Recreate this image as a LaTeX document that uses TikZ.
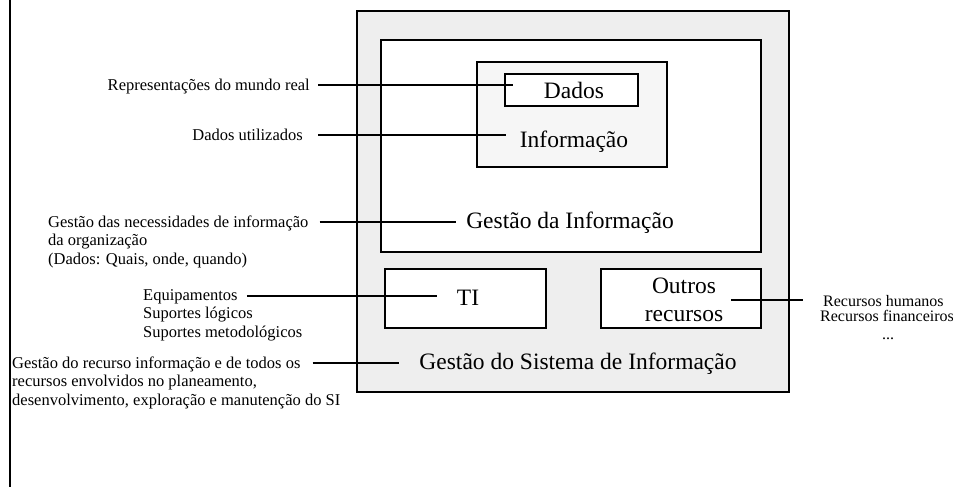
\documentclass[tikz,border=0pt]{standalone}
\usepackage{fontspec}
\setmainfont{Liberation Serif}
\usetikzlibrary{calc}
\definecolor{outerfill}{HTML}{EEEEEE}
\definecolor{infofill}{HTML}{F6F6F6}
\tikzset{
  smalltxt/.style={font=\fontsize{16.5}{18.5}\selectfont, inner sep=0pt},
  righttxt/.style={font=\fontsize{16}{18}\selectfont, inner sep=0pt},
  bigtxt/.style={font=\fontsize{23.5}{28}\selectfont, inner sep=0pt},
  box/.style={draw, line width=1.6pt, inner sep=0pt},
  conn/.style={line width=1.8pt},
}
\begin{document}
\begin{tikzpicture}[x=1pt,y=-1pt]
\useasboundingbox (0,0) rectangle (953,487);
\draw[line width=2.6pt] (10,-2) -- (10,489);
% boxes
\node[box, line width=1.4pt, fill=outerfill, minimum width=432pt, minimum height=381pt] (outer) at (573,201.5) {};
\node[box, fill=white, minimum width=380pt, minimum height=212pt] (gibox) at (571,146) {};
\node[box, fill=infofill, minimum width=190pt, minimum height=105pt] (infobox) at (572,114.5) {};
\node[box, fill=white, minimum width=133pt, minimum height=32pt] (dadosbox) at (571.5,90) {};
\node[box, fill=white, minimum width=161pt, minimum height=59pt] (tibox) at (465.5,298.5) {};
\node[box, fill=white, minimum width=160pt, minimum height=59pt] (outrosbox) at (681,298.5) {};
% box texts
\node[bigtxt, anchor=base] (tdados) at (574,98) {Dados};
\node[bigtxt, anchor=base] (tinfo) at (574,147) {Informação};
\node[bigtxt, anchor=base] (tgi) at (570,228) {Gestão da Informação};
\node[bigtxt, anchor=base] (tti) at (468,305) {TI};
\node[bigtxt, anchor=base] (toutros) at (684,293) {Outros};
\node[bigtxt, anchor=base] (trec) at (684,321) {recursos};
\node[bigtxt, anchor=base] (tgsi) at (578,369) {Gestão do Sistema de Informação};
% left texts
\node[smalltxt, anchor=base east] (rep) at (310,90) {Representações do mundo real};
\node[smalltxt, anchor=base east] (du) at (303,140) {Dados utilizados};
\node[smalltxt, anchor=base west] (gn1) at (48,227) {Gestão das necessidades de informação};
\node[smalltxt, anchor=base west] (gn2) at (48,245.5) {da organização};
\node[smalltxt, anchor=base west] (gn3) at (48,264) {(Dados: Quais, onde, quando)};
\node[smalltxt, anchor=base west] (eq1) at (143,300) {Equipamentos};
\node[smalltxt, anchor=base west] (eq2) at (143,318.5) {Suportes lógicos};
\node[smalltxt, anchor=base west] (eq3) at (143,337) {Suportes metodológicos};
\node[smalltxt, anchor=base west] (gr1) at (12,368) {Gestão do recurso informação e de todos os};
\node[smalltxt, anchor=base west] (gr2) at (12,386.5) {recursos envolvidos no planeamento,};
\node[smalltxt, anchor=base west] (gr3) at (12,405) {desenvolvimento, exploração e manutenção do SI};
% right texts
\node[righttxt, anchor=base west] (rh) at (823,306) {Recursos humanos};
\node[righttxt, anchor=base west] (rf) at (820,321) {Recursos financeiros};
\node[righttxt, anchor=base] (rdots) at (888,339) {...};
% connector ends
\coordinate (e1) at (513,85);
\coordinate (e2) at (506,135);
\coordinate (e3) at (456,222);
\coordinate (e4) at (437,296);
\coordinate (e5) at (399,363);
\coordinate (s6) at (731,300);
% connectors
\draw[conn] ($(rep.east |- e1)+(8,0)$) -- (e1);
\draw[conn] ($(du.east |- e2)+(15,0)$) -- (e2);
\draw[conn] ($(gn1.east |- e3)+(11,0)$) -- (e3);
\draw[conn] ($(eq1.east |- e4)+(9,0)$) -- (e4);
\draw[conn] ($(gr1.east |- e5)+(12,0)$) -- (e5);
\draw[conn] (s6) -- ($(rh.west |- s6)+(-20,0)$);
\end{tikzpicture}
\end{document}
